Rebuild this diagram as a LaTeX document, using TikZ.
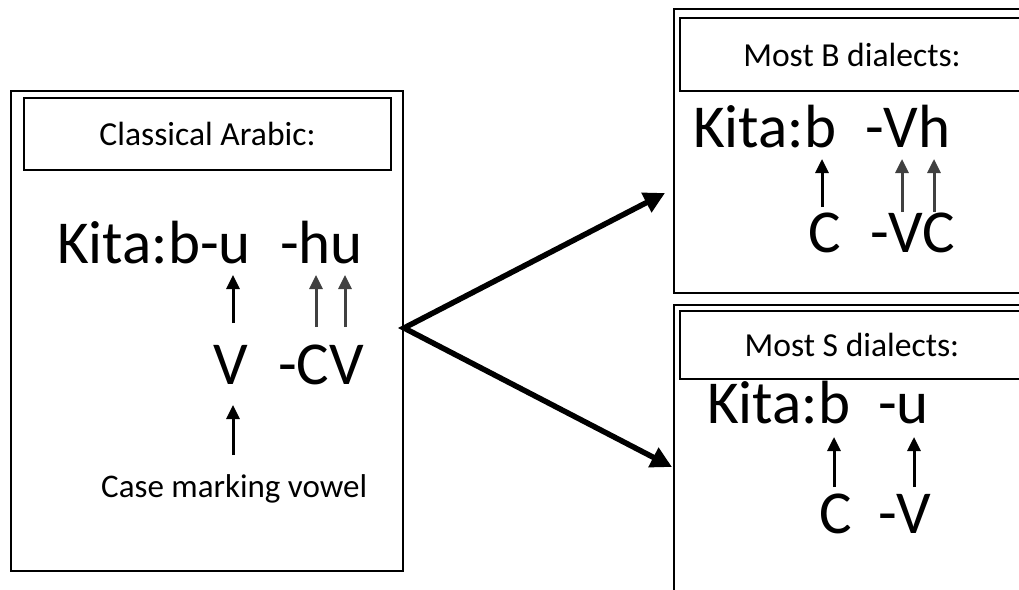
\documentclass[tikz,border=0pt]{standalone}
\usepackage{fontspec}
\setmainfont{Carlito}
\usetikzlibrary{arrows.meta}
\definecolor{ptrgrey}{HTML}{404040}
\tikzset{
  outerbox/.style={draw, line width=2pt, inner sep=0pt, anchor=north west},
  titlebox/.style={draw, line width=2pt, inner sep=0pt, anchor=north west,
                   font=\fontsize{33.6}{38}\selectfont},
  form/.style={inner sep=0pt, anchor=base west, font=\fontsize{61}{70}\selectfont},
  gloss/.style={inner sep=0pt, anchor=base west, font=\fontsize{33}{38}\selectfont},
  ptr/.style={line width=3pt, -{Triangle[length=14pt,width=13pt]}},
  ptrgrey/.style={ptr, draw=ptrgrey, fill=ptrgrey},
  split/.style={line width=5.5pt, line join=miter,
                {Triangle[length=21pt,width=21pt]}-{Triangle[length=21pt,width=21pt]}},
}
\begin{document}
\begin{tikzpicture}[x=1pt,y=-1pt]
\useasboundingbox (0,0) rectangle (1019,589);
\clip (0,0) rectangle (1019,589);

% ---- Classical Arabic ----
\node[outerbox, minimum width=392pt, minimum height=480pt] (cl) at (10,90) {};
\node[titlebox, minimum width=367pt, minimum height=72pt] (clT) at (23,97) {Classical Arabic:};
\node[form] (clA) at (57,263) {Kita:b-u};
\node[form] (clB) at (280,263) {-hu};
\node[form] (clC) at (213,384) {V};
\node[form] (clD) at (278,384) {-CV};
\node[gloss] (clE) at (101,497) {Case marking vowel};
\coordinate (cl-u) at (233,275);   \coordinate (cl-V) at (233,323);
\coordinate (cl-h) at (316,275);   \coordinate (cl-C) at (316,327);
\coordinate (cl-u2) at (345,275);  \coordinate (cl-V2) at (345,327);
\coordinate (cl-Vb) at (233,405);  \coordinate (cl-gl) at (233,455);
\draw[ptr] (cl-V) -- (cl-u);
\draw[ptrgrey] (cl-C) -- (cl-h);
\draw[ptrgrey] (cl-V2) -- (cl-u2);
\draw[ptr] (cl-gl) -- (cl-Vb);

% ---- Most B dialects ----
\node[outerbox, minimum width=357pt, minimum height=284pt] (bb) at (673,8) {};
\node[titlebox, minimum width=344pt, minimum height=73pt] (bbT) at (679,17) {Most B dialects:};
\node[form] (bbA) at (693,147) {Kita:b};
\node[form] (bbB) at (865,147) {-Vh};
\node[form] (bbC) at (808,252) {C};
\node[form] (bbD) at (870,252) {-VC};
\coordinate (bb-b) at (822,159);  \coordinate (bb-C) at (822,207);
\coordinate (bb-V) at (902,159);  \coordinate (bb-V2) at (902,212);
\coordinate (bb-h) at (934,159);  \coordinate (bb-C2) at (934,212);
\draw[ptr] (bb-C) -- (bb-b);
\draw[ptrgrey] (bb-V2) -- (bb-V);
\draw[ptrgrey] (bb-C2) -- (bb-h);

% ---- Most S dialects ----
\node[outerbox, minimum width=357pt, minimum height=290pt] (ss) at (673,304) {};
\node[titlebox, minimum width=344pt, minimum height=68pt] (ssT) at (679,310) {Most S dialects:};
\node[form] (ssA) at (707,423) {Kita:b};
\node[form] (ssB) at (878,423) {-u};
\node[form] (ssC) at (819,533) {C};
\node[form] (ssD) at (878,533) {-V};
\coordinate (ss-b) at (834,437);  \coordinate (ss-C) at (834,487);
\coordinate (ss-u) at (914,437);  \coordinate (ss-V) at (914,487);
\draw[ptr] (ss-C) -- (ss-b);
\draw[ptr] (ss-V) -- (ss-u);

% ---- split into the two dialect groups ----
\coordinate (fork) at (404,328);
\coordinate (toB) at (665,193);
\coordinate (toS) at (672,467);
\draw[split] (toB) -- (fork) -- (toS);
\end{tikzpicture}
\end{document}
